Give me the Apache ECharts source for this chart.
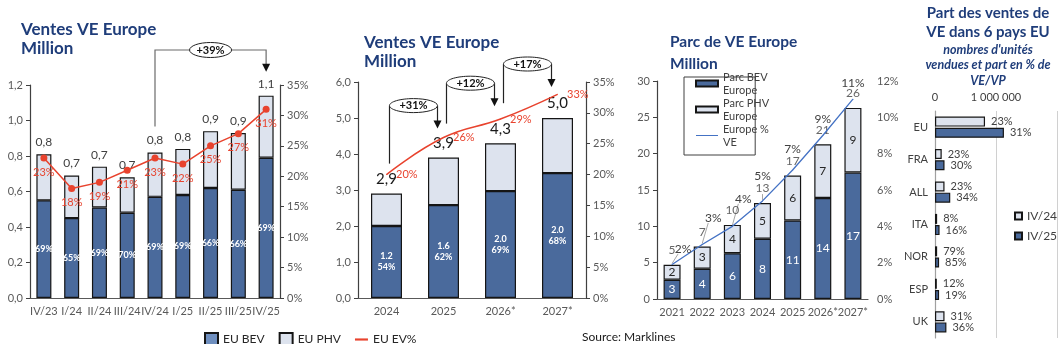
<!DOCTYPE html>
<html>
<head>
<meta charset="utf-8">
<script src="https://cdn.jsdelivr.net/npm/echarts@6/dist/echarts.min.js"></script>
<style>
html,body{margin:0;padding:0;background:#fff}
#c{width:1060px;height:344px}
</style>
</head>
<body>
<div id="c"></div>
<script>
// Quarterly EV sales in Europe (million units)
const quarters = ['IV/23','I/24','II/24','III/24','IV/24','I/25','II/25','III/25','IV/25'];
const qBev = [0.55,0.45,0.51,0.48,0.57,0.58,0.62,0.61,0.79];
const qPhv = [0.26,0.24,0.23,0.20,0.25,0.26,0.32,0.32,0.35];
const qBevShare = [69,65,69,70,69,69,66,66,69];
const qEvPct = [23,18,19,21,23,22,25,27,31];
const qGrowth = '+39%';

// Annual EV sales and forecasts (million units)
const years = ['2024','2025','2026*','2027*'];
const yBev = [2.0,2.58,2.97,3.47];
const yPhv = [0.9,1.32,1.33,1.53];
const yBevNote = ['1.2','1.6','2.0','2.0'];
const yBevNoteShare = [54,62,69,68];
const yEvPct = [20,26,29,33];
const yGrowth = ['+31%','+12%','+17%'];

// EV fleet in Europe (million vehicles)
const parcYears = ['2021','2022','2023','2024','2025','2026*','2027*'];
const parcBev = [2.65,4.16,6.3,8.3,10.8,13.9,17.4];
const parcPhv = [2.05,3.07,3.9,4.9,6.2,7.4,8.9];
const parcPct = [1.9,3.0,4.0,5.4,7.1,9.0,11.0];

// EV sales by country (units) and EV share of passenger car sales
const countries = ['EU','FRA','ALL','ITA','NOR','ESP','UK'];
const units24 = [820000,110000,156000,35000,35000,30000,156000];
const units25 = [1130000,156000,250000,75000,67000,67000,187000];
const share24 = [23,23,23,8,79,12,31];
const share25 = [31,30,34,16,85,19,36];

const NAVY = '#1f3d7a';
const BEV = '#4a6a9c';
const PHV = '#dde3ee';
const RED = '#e8432e';
const BLUE = '#4472c4';
const TXT = '#404040';
const AX = '#595959';
const FONT = 'Lato, "Noto Sans", sans-serif';

const fmt1 = v => v.toFixed(1).replace('.', ',');
const qTot = qBev.map((v, i) => v + qPhv[i]);
const yTot = yBev.map((v, i) => v + yPhv[i]);
const parcTot = parcBev.map((v, i) => v + parcPhv[i]);

const barBorder = { borderColor: '#151515', borderWidth: 1.2 };
const axisLbl = { color: AX, fontSize: 11, fontFamily: FONT };

function leftAxis(grid, max, step, fmt, extra) {
  return Object.assign({
    gridIndex: grid, type: 'value', min: 0, max: max, interval: step,
    axisLine: { show: true, lineStyle: { color: TXT, width: 1.2 } },
    axisTick: { show: true, length: 4, lineStyle: { color: TXT } },
    splitLine: { show: false },
    axisLabel: Object.assign({ formatter: fmt, margin: 7 }, axisLbl)
  }, extra || {});
}
function catAxis(grid, data) {
  return {
    gridIndex: grid, type: 'category', data: data,
    axisLine: { show: true, lineStyle: { color: AX, width: 1.2 } },
    axisTick: { show: false },
    axisLabel: Object.assign({ margin: 8, interval: 0 }, axisLbl)
  };
}

// Fleet share labels sit above the stack totals; early years are pulled aside
const parcLabelShift = [[11,-4],[11,-15],[11,-16],[0,-13],[0,-9],[0,-5],[0,-5]];

const option = {
  animation: false,
  backgroundColor: '#fff',
  textStyle: { fontFamily: FONT },
  grid: [
    { left: 30, top: 85, width: 250, height: 213 },
    { left: 358, top: 82, width: 228, height: 216 },
    { left: 657, top: 81, width: 211, height: 218 },
    { left: 935, top: 111, width: 150, height: 227 }
  ],
  xAxis: [
    catAxis(0, quarters),
    catAxis(1, years),
    catAxis(2, parcYears),
    {
      gridIndex: 3, type: 'value', position: 'top', min: 0, max: 2000000, interval: 1000000,
      axisLine: { show: false }, axisTick: { show: false },
      splitLine: { show: true, lineStyle: { color: '#d0d0d0' } },
      axisLabel: {
        margin: 8, color: TXT, fontSize: 11, fontFamily: FONT,
        formatter: v => v === 0 ? '0' : (v === 1000000 ? '1 000 000' : '')
      }
    }
  ],
  yAxis: [
    leftAxis(0, 1.2, 0.2, v => fmt1(v)),
    leftAxis(0, 35, 5, '{value}%', { position: 'right' }),
    leftAxis(1, 6, 1, v => fmt1(v)),
    leftAxis(1, 35, 5, '{value}%', { position: 'right' }),
    leftAxis(2, 30, 5, '{value}'),
    leftAxis(2, 12, 2, '{value}%', { position: 'right', axisLine: { show: false }, axisTick: { show: false }, axisLabel: Object.assign({ formatter: '{value}%', margin: 9 }, axisLbl) }),
    {
      gridIndex: 3, type: 'category', data: countries, inverse: true,
      axisLine: { show: true, lineStyle: { color: '#a0a0a0', width: 1.2 } },
      axisTick: { show: false },
      axisLabel: { color: TXT, fontSize: 11, fontFamily: FONT, margin: 7 }
    }
  ],
  legend: [
    {
      data: [{ name: 'EU BEV', icon: 'rect', itemStyle: { color: '#6f8fbf' } }, { name: 'EU PHV', icon: 'rect' }, { name: 'EU EV%', icon: 'path://M0,0H12V2H0Z' }],
      left: 199, top: 327, itemWidth: 13, itemHeight: 13, itemGap: 14,
      textStyle: { color: '#262626', fontSize: 12, fontFamily: FONT },
      selectedMode: false
    },
    {
      data: [{ name: 'Parc BEV\nEurope', icon: 'rect' }, { name: 'Parc PHV\nEurope', icon: 'rect' }, { name: 'Europe %\nVE', icon: 'path://M0,0H22V1H0Z' }],
      orient: 'vertical', left: 684, top: 77,
      itemWidth: 22, itemHeight: 6, itemGap: -13,
      padding: [-13, -14, 0, 11],
      borderColor: '#404040', borderWidth: 1, backgroundColor: '#fff',
      textStyle: { color: TXT, fontSize: 11, lineHeight: 13, fontFamily: FONT, padding: [13, 0, 0, 0] },
      selectedMode: false
    },
    {
      data: [{ name: 'IV/24', icon: 'rect' }, { name: 'IV/25', icon: 'rect' }],
      orient: 'vertical', left: 1009, top: 205,
      itemWidth: 7, itemHeight: 7, itemGap: 8,
      textStyle: { color: TXT, fontSize: 12, fontFamily: FONT },
      selectedMode: false
    }
  ],
  series: [
    // quarterly panel
    {
      name: 'EU BEV', type: 'bar', xAxisIndex: 0, yAxisIndex: 0, stack: 'q', barWidth: 15,
      data: qBev, itemStyle: Object.assign({ color: BEV }, barBorder),
      label: { show: true, position: 'inside', formatter: p => qBevShare[p.dataIndex] + '%', color: '#fff', fontSize: 9, fontWeight: 'bold' }
    },
    {
      name: 'EU PHV', type: 'bar', xAxisIndex: 0, yAxisIndex: 0, stack: 'q', barWidth: 15,
      data: qPhv, itemStyle: Object.assign({ color: PHV }, barBorder),
      label: { show: true, position: 'top', distance: 6, formatter: p => fmt1(qTot[p.dataIndex]), color: TXT, fontSize: 12 }
    },
    {
      name: 'EU EV%', type: 'line', xAxisIndex: 0, yAxisIndex: 1, data: qEvPct, z: 5,
      symbol: 'circle', symbolSize: 7, itemStyle: { color: RED }, lineStyle: { color: RED, width: 1.5 },
      label: { show: true, position: 'bottom', distance: 5, formatter: '{c}%', color: RED, fontSize: 11 }
    },
    // annual panel
    {
      name: 'EU BEV', type: 'bar', xAxisIndex: 1, yAxisIndex: 2, stack: 'y', barWidth: 31,
      data: yBev, itemStyle: Object.assign({ color: BEV }, barBorder),
      label: { show: true, position: 'inside', formatter: p => yBevNote[p.dataIndex] + '\n' + yBevNoteShare[p.dataIndex] + '%', color: '#fff', fontSize: 9, fontWeight: 'bold', lineHeight: 11 }
    },
    {
      name: 'EU PHV', type: 'bar', xAxisIndex: 1, yAxisIndex: 2, stack: 'y', barWidth: 31,
      data: yPhv, itemStyle: Object.assign({ color: PHV }, barBorder),
      label: { show: true, position: 'top', distance: 7, formatter: p => fmt1(yTot[p.dataIndex]), color: '#1a1a1a', fontSize: 15 }
    },
    {
      name: 'EU EV%', type: 'line', xAxisIndex: 1, yAxisIndex: 3, data: yEvPct, smooth: 0.45, z: 5,
      symbol: 'circle', symbolSize: 1, itemStyle: { color: RED }, lineStyle: { color: RED, width: 1.5 },
      label: { show: true, position: 'right', distance: 9, formatter: '{c}%', color: RED, fontSize: 11 }
    },
    // fleet panel
    {
      name: 'Parc BEV\nEurope', type: 'bar', xAxisIndex: 2, yAxisIndex: 4, stack: 'p', barWidth: 17,
      data: parcBev, itemStyle: Object.assign({ color: BEV }, barBorder),
      label: { show: true, position: 'inside', formatter: p => Math.round(p.value), color: '#fff', fontSize: 12 }
    },
    {
      name: 'Parc PHV\nEurope', type: 'bar', xAxisIndex: 2, yAxisIndex: 4, stack: 'p', barWidth: 17,
      data: parcPhv, itemStyle: Object.assign({ color: PHV }, barBorder),
      label: { show: true, position: 'inside', formatter: p => Math.round(p.value), color: '#262626', fontSize: 12 }
    },
    {
      name: 'Parc total', type: 'scatter', xAxisIndex: 2, yAxisIndex: 4, data: parcTot,
      symbol: 'circle', symbolSize: 1, itemStyle: { color: 'rgba(0,0,0,0)' },
      label: { show: true, position: 'top', distance: 8, formatter: p => Math.round(p.value), color: TXT, fontSize: 12 }
    },
    {
      name: 'Europe %\nVE', type: 'line', xAxisIndex: 2, yAxisIndex: 5, z: 4, data: parcPct,
      symbol: 'circle', symbolSize: 1, itemStyle: { color: BLUE }, lineStyle: { color: BLUE, width: 1.3 },
      label: { show: true, position: 'top', distance: 5, formatter: p => Math.round(p.value) + '%', color: TXT, fontSize: 12 },
      labelLayout: p => ({ dx: parcLabelShift[p.dataIndex][0], dy: parcLabelShift[p.dataIndex][1] })
    },
    // country panel
    {
      name: 'IV/24', type: 'bar', xAxisIndex: 3, yAxisIndex: 6, barWidth: 10, barGap: '12%',
      data: units24, itemStyle: Object.assign({ color: PHV }, barBorder),
      label: { show: true, position: 'right', distance: 6, formatter: p => share24[p.dataIndex] + '%', color: TXT, fontSize: 11 }
    },
    {
      name: 'IV/25', type: 'bar', xAxisIndex: 3, yAxisIndex: 6, barWidth: 10, barGap: '12%',
      data: units25, itemStyle: Object.assign({ color: BEV }, barBorder),
      label: { show: true, position: 'right', distance: 6, formatter: p => share25[p.dataIndex] + '%', color: TXT, fontSize: 11 }
    }
  ]
};

const chart = echarts.init(document.getElementById('c'));
chart.setOption(option);

// Annotation layer: titles, source, guide lines and growth brackets anchored to the bars
const pt = (s, i, v) => chart.convertToPixel({ seriesIndex: s }, [i, v]);
const G = [];
function text(t, x, y, size, weight, color, extra) {
  G.push({ type: 'text', z: 100, style: Object.assign({
    text: t, x: x, y: y, fontSize: size, fontWeight: weight, fontFamily: FONT, fill: color,
    align: 'left', verticalAlign: 'top'
  }, extra || {}) });
}
text('Ventes VE Europe\nMillion', 21, 20, 17, 'bold', NAVY, { lineHeight: 19 });
text('Ventes VE Europe\nMillion', 364, 33, 17, 'bold', NAVY, { lineHeight: 19 });
text('Parc de VE Europe\nMillion', 670, 31, 15.5, 'bold', NAVY, { lineHeight: 22 });
text('Part des ventes de\nVE dans 6 pays EU', 988, 3, 15, 'bold', NAVY, { lineHeight: 19.5, align: 'center' });
text("nombres d'unités\nvendues et part en % de\nVE/VP", 988, 42, 12.5, 'bold', NAVY, { lineHeight: 15.5, align: 'center', fontStyle: 'italic' });
text('Source: Marklines', 582, 331, 12, 'normal', '#1a1a1a');

// guide lines from the moved fleet share labels back to their points
for (let i = 0; i < 4; i++) {
  const p = pt(9, i, parcPct[i]);
  const s = parcLabelShift[i];
  const labelBottom = p[1] - 5.5 + s[1];
  const from = i < 3 ? [p[0] + s[0] - 5, labelBottom - 1] : [p[0], pt(8, i, parcTot[i])[1] - 9];
  G.push({ type: 'line', z: 1, shape: { x1: from[0], y1: from[1], x2: p[0], y2: p[1] - 1 }, style: { stroke: '#a6a6a6', lineWidth: 1 } });
}

function bracket(xl, xr, y0, level, tip, rx, ry, label, stroke, sideArm) {
  const cx = (xl + xr) / 2;
  const ex0 = sideArm ? cx - rx : xl;
  const ex1 = sideArm ? cx + rx : xr;
  G.push({ type: 'polyline', z: 90, shape: { points: [[xl, y0], [xl, level], [ex0, level]] }, style: { stroke: stroke, lineWidth: 1.2, fill: null } });
  G.push({ type: 'polyline', z: 90, shape: { points: [[ex1, level], [xr, level], [xr, tip - 7]] }, style: { stroke: stroke, lineWidth: 1.2, fill: null } });
  G.push({ type: 'polygon', z: 91, shape: { points: [[xr - 4, tip - 8], [xr + 4, tip - 8], [xr, tip]] }, style: { fill: '#111' } });
  G.push({ type: 'ellipse', z: 92, shape: { cx: (ex0 + ex1) / 2, cy: level, rx: (ex1 - ex0) / 2, ry: ry }, style: { fill: '#fff', stroke: '#222', lineWidth: 1 } });
  G.push({ type: 'text', z: 93, style: { text: label, x: (ex0 + ex1) / 2, y: level, align: 'center', verticalAlign: 'middle', fontSize: 11, fontWeight: 'bold', fontFamily: FONT, fill: '#111' } });
}

// year-over-year growth on the quarterly panel
{
  const a = pt(1, 4, qTot[4]);
  const b = pt(1, 8, qTot[8]);
  bracket(a[0], b[0], a[1] - 26, 50, b[1] - 24, 21, 7.5, qGrowth, '#6b6b6b', true);
}
// growth between consecutive years on the annual panel
{
  const startGap = [30, 34, 40];
  const tipGap = [29, 37, 31];
  for (let i = 0; i < 3; i++) {
    const a = pt(4, i, yTot[i]);
    const b = pt(4, i + 1, yTot[i + 1]);
    const tip = b[1] - tipGap[i];
    bracket(a[0] + 3, b[0] - 6, a[1] - startGap[i], tip - 23, tip, 0, 7, yGrowth[i], '#222', false);
  }
}
chart.setOption({ graphic: G });
</script>
</body>
</html>
